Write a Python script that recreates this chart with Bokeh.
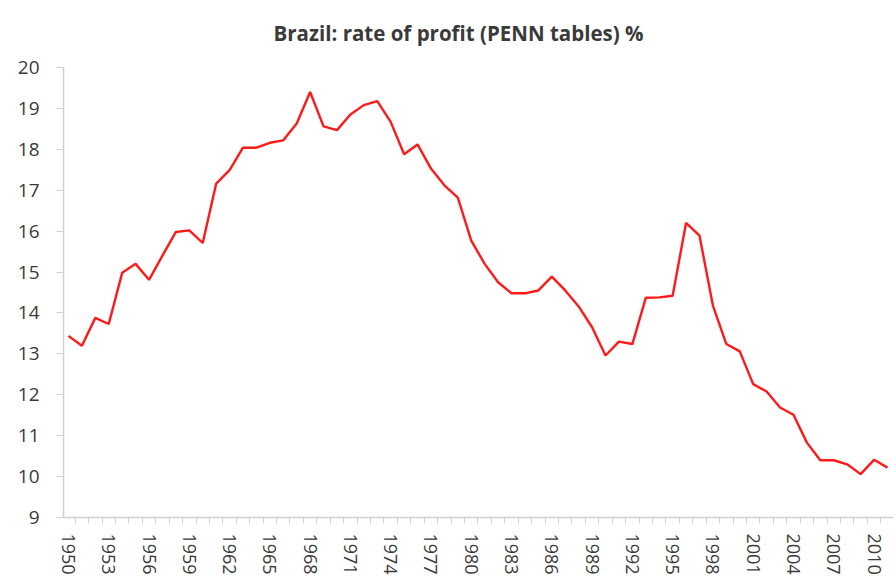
from bokeh.plotting import figure
from bokeh.models import FixedTicker, Title
from bokeh.embed import file_html
from bokeh.resources import INLINE

years = list(range(1950, 2012))
rate = [13.44, 13.20, 13.88, 13.73, 14.98, 15.20, 14.81, 15.40, 15.98, 16.02,
        15.71, 17.16, 17.49, 18.04, 18.04, 18.16, 18.22, 18.63, 19.40, 18.56,
        18.47, 18.85, 19.08, 19.18, 18.67, 17.88, 18.12, 17.53, 17.12, 16.82,
        15.77, 15.20, 14.75, 14.48, 14.48, 14.55, 14.89, 14.55, 14.16, 13.65,
        12.96, 13.30, 13.24, 14.37, 14.38, 14.42, 16.20, 15.89, 14.18, 13.24,
        13.06, 12.26, 12.08, 11.69, 11.51, 10.83, 10.40, 10.40, 10.30, 10.06,
        10.41, 10.22]
label_years = list(range(1950, 2012, 3))
y_ticks = list(range(9, 21))
title_text = "Brazil: rate of profit (PENN tables) %"

FONT = "Open Sans"
TXT = "#3a3a3a"
AX = "#d0d0d0"

p = figure(frame_width=830, frame_height=450,
           x_range=(1949.63, 2011.45), y_range=(9, 20),
           output_backend="svg", toolbar_location=None,
           min_border_left=63, min_border_right=0, min_border_top=67,
           min_border_bottom=63, background_fill_color="white",
           border_fill_color="white", outline_line_color=None)

spacer = Title(text=" ", text_font=FONT, text_font_size="3px")
p.add_layout(spacer, "above")
t = Title(text=title_text, align="left", offset=210,
          text_font=FONT, text_font_size="20.5px", text_font_style="bold",
          text_color=TXT)
p.add_layout(t, "above")

p.line(years, rate, line_color="#ff1a1a", line_width=2.4)

p.grid.visible = False

xa = p.xaxis[0]
xa.ticker = FixedTicker(ticks=label_years,
                        minor_ticks=[y - 0.5 for y in years] + [years[-1] + 0.5])
xa.major_label_orientation = "vertical"
xa.major_tick_line_color = None
xa.major_tick_out = 8
xa.major_tick_in = 0
xa.minor_tick_out = 6
xa.minor_tick_in = 0
xa.minor_tick_line_color = AX
xa.axis_line_color = AX
xa.axis_line_width = 1.5
xa.major_label_standoff = 8
xa.major_label_text_font = FONT
xa.major_label_text_font_size = "18px"
xa.major_label_text_color = TXT

ya = p.yaxis[0]
ya.ticker = FixedTicker(ticks=y_ticks)
ya.major_tick_out = 7
ya.major_tick_in = 0
ya.minor_tick_line_color = None
ya.major_tick_line_color = AX
ya.axis_line_color = AX
ya.axis_line_width = 1.5
ya.major_label_standoff = 17
ya.major_label_text_font = FONT
ya.major_label_text_font_size = "19px"
ya.major_label_text_color = TXT

open("out.html", "w").write(file_html(p, INLINE))
